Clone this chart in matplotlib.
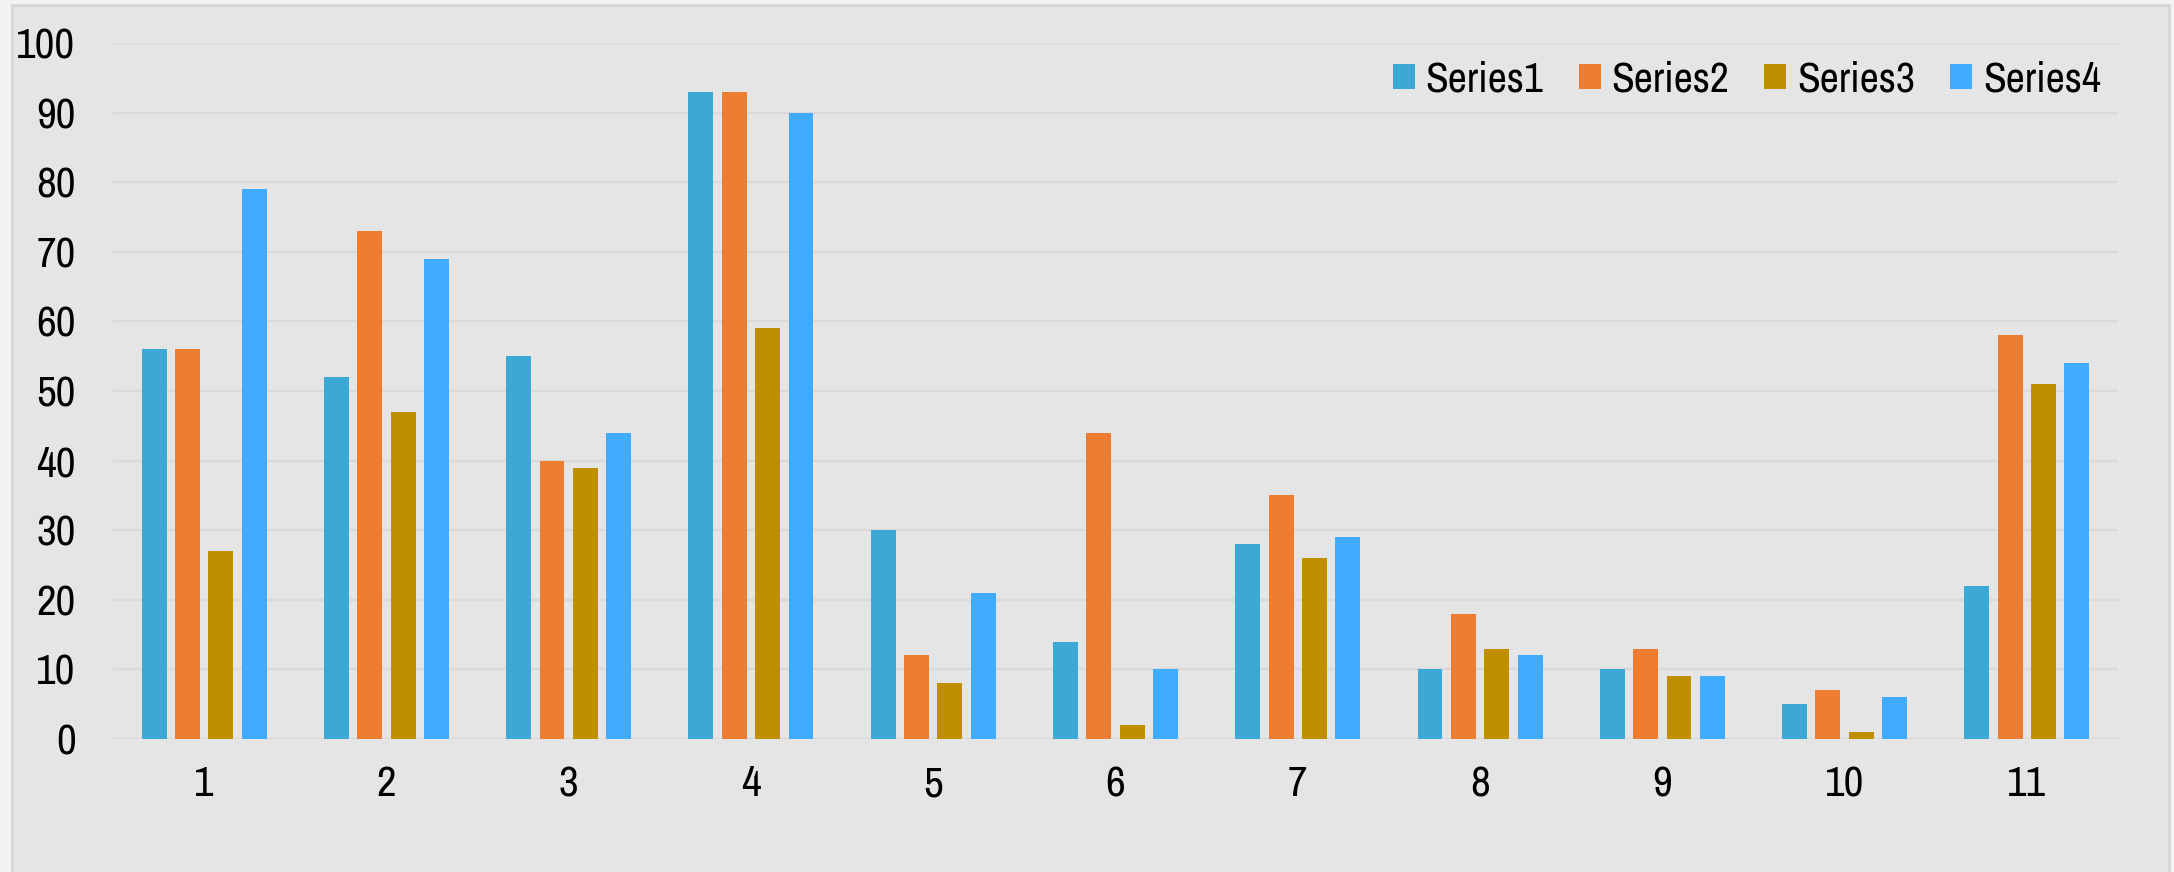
import matplotlib
matplotlib.use("Agg")
import matplotlib.pyplot as plt
from matplotlib.patches import Rectangle
from matplotlib import font_manager
import numpy as np

categories = ["1", "2", "3", "4", "5", "6", "7", "8", "9", "10", "11"]
series_names = ["Series1", "Series2", "Series3", "Series4"]
series1 = [56, 52, 55, 93, 30, 14, 28, 10, 10, 5, 22]
series2 = [56, 73, 40, 93, 12, 44, 35, 18, 13, 7, 58]
series3 = [27, 47, 39, 59, 8, 2, 26, 13, 9, 1, 51]
series4 = [79, 69, 44, 90, 21, 10, 29, 12, 9, 6, 54]
colors = ["#3CA8D6", "#ED7D31", "#BF8F00", "#3FACFF"]
yticks = [0, 10, 20, 30, 40, 50, 60, 70, 80, 90, 100]

available = {f.name for f in font_manager.fontManager.ttflist}
fam = [f for f in ['Liberation Sans Narrow', 'Arial Narrow', 'Archivo Narrow',
                   'Roboto Condensed', 'Liberation Sans', 'DejaVu Sans'] if f in available]
plt.rcParams['font.family'] = fam

W, H = 2174, 872
fig = plt.figure(figsize=(W / 100, H / 100), dpi=100, facecolor="#F2F2F2")
panel = Rectangle((12 / W, -0.1), (2169 - 12) / W, 1.1 - 5 / H,
                  transform=fig.transFigure, facecolor="#E5E5E5",
                  edgecolor="#D6D6D6", linewidth=2, zorder=-10)
fig.add_artist(panel)

ax = fig.add_axes([113 / W, 1 - 739 / H, (2118 - 113) / W, (739 - 43) / H])
ax.set_zorder(5)
ax.set_facecolor("none")

x = np.arange(len(categories))
width = 0.137
step = 0.183
for i, (vals, name) in enumerate(zip([series1, series2, series3, series4], series_names)):
    ax.bar(x + (i - 1.5) * step, vals, width=width, color=colors[i], label=name, zorder=3)

ax.set_xlim(-0.5, len(categories) - 0.5)
ax.set_ylim(0, 100)
ax.set_yticks(yticks)
ax.set_xticks(x)
ax.set_xticklabels(categories)
ax.grid(axis="y", color="#D9D9D9", linewidth=1.6, zorder=0)
ax.set_axisbelow(True)
for s in ax.spines.values():
    s.set_visible(False)
ax.tick_params(axis="both", length=0, labelsize=31, colors="black")
ax.tick_params(axis="y", pad=27)
ax.tick_params(axis="x", pad=19)

leg = ax.legend(ncol=4, frameon=False, loc="center right", bbox_to_anchor=(0.9915, 0.948),
                fontsize=30, handlelength=0.53, handleheight=0.53, handletextpad=0.26,
                columnspacing=0.84, borderaxespad=0, borderpad=0)

fig.savefig("out.png", dpi=100, facecolor=fig.get_facecolor())
